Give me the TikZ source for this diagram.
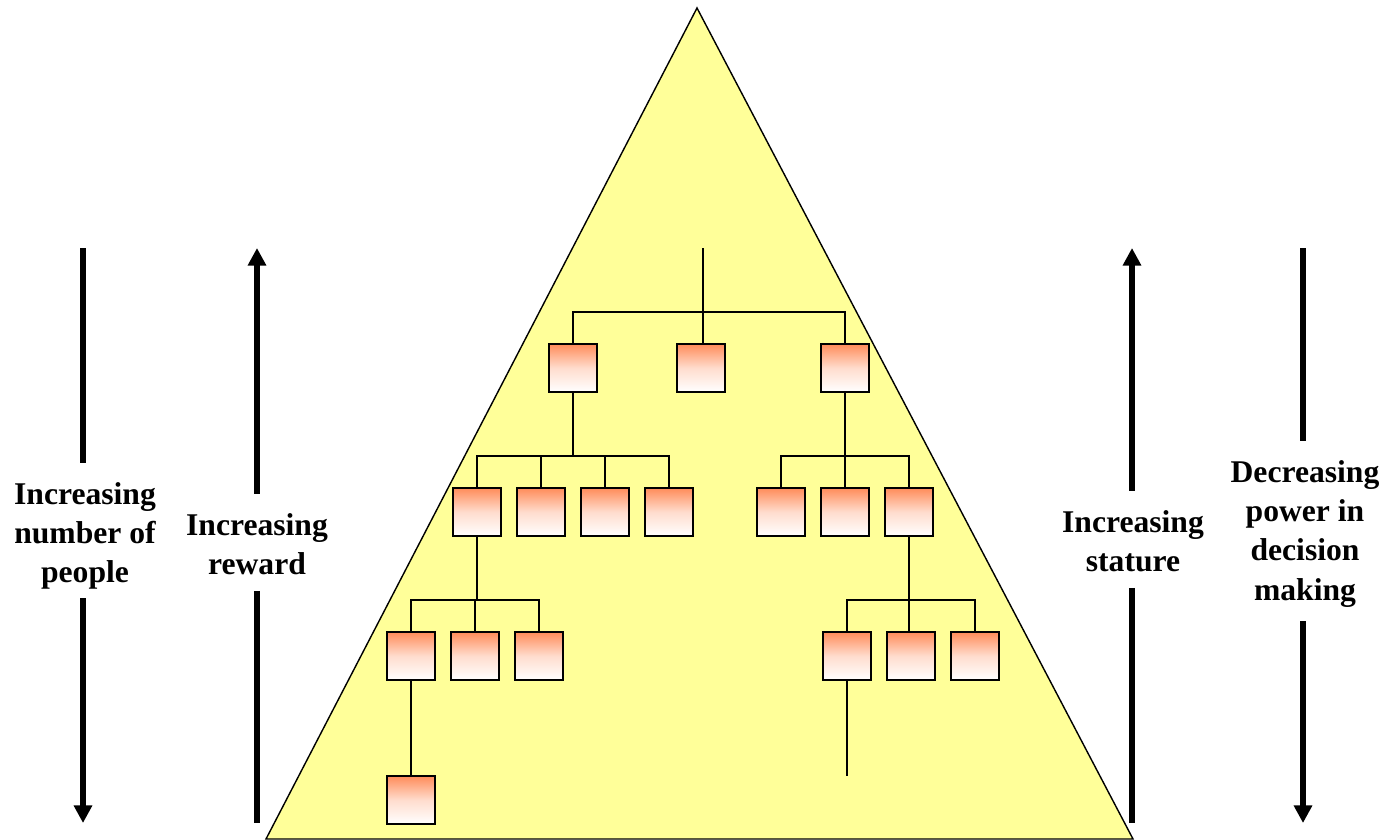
\documentclass[tikz,border=0pt]{standalone}
\usepackage{fontspec}
\setmainfont{Liberation Serif}
\usetikzlibrary{positioning,arrows.meta}
\definecolor{pyramidyellow}{RGB}{255,255,153}
\definecolor{postorange}{RGB}{255,140,90}

\begin{document}
\begin{tikzpicture}[x=0.02cm, y=-0.02cm, font=\bfseries\fontsize{18}{22.2}\selectfont,
    >={Triangle[length=10pt,width=10pt]},
    post/.style={draw, line width=1.2pt, minimum size=0.96cm, inner sep=0pt,
                 top color=postorange, bottom color=white, middle color=postorange!30},
    link/.style={line width=1pt},
    bigarrow/.style={line width=3.1pt},
    label/.style={align=center, inner sep=0pt}]
  \useasboundingbox (0,0) rectangle (1389,839);

  % pyramid
  \draw[fill=pyramidyellow, line width=0.8pt] (697,8) -- (1133,839) -- (266,839) -- cycle;

  % posts, top to bottom
  \node[post] (a1) at (573,368) {};
  \node[post] (a2) at (701,368) {};
  \node[post] (a3) at (845,368) {};
  \node[post] (b1) at (477,512) {};
  \node[post] (b2) at (541,512) {};
  \node[post] (b3) at (605,512) {};
  \node[post] (b4) at (669,512) {};
  \node[post] (b5) at (781,512) {};
  \node[post] (b6) at (845,512) {};
  \node[post] (b7) at (909,512) {};
  \node[post] (c1) at (411,656) {};
  \node[post] (c2) at (475,656) {};
  \node[post] (c3) at (539,656) {};
  \node[post] (c4) at (847,656) {};
  \node[post] (c5) at (911,656) {};
  \node[post] (c6) at (975,656) {};
  \node[post] (d1) at (411,800) {};

  % reporting lines
  \coordinate (top) at (703,248);
  \coordinate (tail) at (847,776);
  \draw[link] (top) -- (a2.north -| top);
  \draw[link] (a1.north) |- (top |- 0,312) -| (a3.north);
  \draw[link] (a1.south) -- (a1 |- 0,456);
  \draw[link] (b1.north) |- (a1 |- 0,456) -| (b4.north);
  \draw[link] (b2.north) -- (b2 |- 0,456);
  \draw[link] (b3.north) -- (b3 |- 0,456);
  \draw[link] (a3.south) -- (b6.north);
  \draw[link] (b5.north) |- (a3 |- 0,456) -| (b7.north);
  \draw[link] (b1.south) -- (b1 |- 0,600);
  \draw[link] (c1.north) |- (b1 |- 0,600) -| (c3.north);
  \draw[link] (c2.north) -- (c2 |- 0,600);
  \draw[link] (b7.south) -- (b7 |- 0,600) -- (c5.north -| b7);
  \draw[link] (c4.north) |- (b7 |- 0,600) -| (c6.north);
  \draw[link] (c1.south) -- (d1.north);
  \draw[link] (c4.south) -- (tail);

  % side arrows
  \node[label] (people) at (85,536) {Increasing\\ number of\\ people};
  \node[label] (reward) at (257,544) {Increasing\\ reward};
  \node[label] (stature) at (1133,541) {Increasing\\ stature};
  \node[label] (power) at (1305,534) {Decreasing\\ power in\\ decision\\ making};
  \coordinate (peopletop) at (83,248);
  \coordinate (peoplebot) at (83,823);
  \coordinate (rewardtop) at (257,248);
  \coordinate (rewardbot) at (257,823);
  \coordinate (staturetop) at (1132,248);
  \coordinate (staturebot) at (1132,823);
  \coordinate (powertop) at (1303,248);
  \coordinate (powerbot) at (1303,823);
  \draw[bigarrow] (peopletop) -- ([yshift=11pt]people.north -| peopletop);
  \draw[bigarrow, ->] ([yshift=-5pt]people.south -| peopletop) -- (peoplebot);
  \draw[bigarrow, ->] ([yshift=11pt]reward.north -| rewardtop) -- (rewardtop);
  \draw[bigarrow] ([yshift=-9pt]reward.south -| rewardtop) -- (rewardbot);
  \draw[bigarrow, ->] ([yshift=11pt]stature.north -| staturetop) -- (staturetop);
  \draw[bigarrow] ([yshift=-9pt]stature.south -| staturetop) -- (staturebot);
  \draw[bigarrow] (powertop) -- ([yshift=11pt]power.north -| powertop);
  \draw[bigarrow, ->] ([yshift=-8pt]power.south -| powertop) -- (powerbot);
\end{tikzpicture}
\end{document}
